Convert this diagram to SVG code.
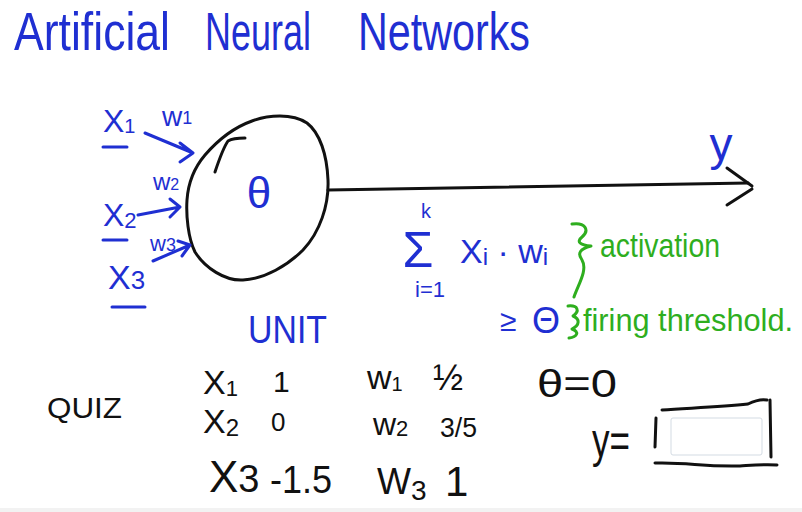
<svg xmlns="http://www.w3.org/2000/svg" width="802" height="512" viewBox="0 0 802 512">
<style>
.t{font-family:"Liberation Sans","DejaVu Sans",sans-serif}
.b{fill:#1f2fd2}
.k{fill:#111}
.g{fill:#2eae1e}
.ink{fill:none;stroke:#111;stroke-width:3;stroke-linecap:round;stroke-linejoin:round}
.bl{fill:none;stroke:#1f2fd2;stroke-width:3;stroke-linecap:round;stroke-linejoin:round}
.gr{fill:none;stroke:#2eae1e;stroke-width:3;stroke-linecap:round;stroke-linejoin:round}
</style>
<rect width="802" height="512" fill="#fff"/>
<rect x="0" y="508" width="802" height="4" fill="#f2f2f2"/>

<g id="title" class="t b">
<text x="14" y="50" font-size="54" textLength="156" lengthAdjust="spacingAndGlyphs">Artificial</text>
<text x="205" y="50" font-size="54" textLength="106" lengthAdjust="spacingAndGlyphs">Neural</text>
<text x="358" y="50" font-size="54" textLength="172" lengthAdjust="spacingAndGlyphs">Networks</text>
</g>

<g id="unit">
<path d="M187,200 C188,185 194,168 205,155 C218,140 235,127 252,121 C268,115 292,113 307,123 C320,133 327,155 328,180 C329,205 320,232 303,250 C288,265 265,279 243,280 C225,281 205,268 195,252 C188,238 186,215 187,200 Z" class="ink"/>
<path d="M215,172 C219,160 223,148 228,141 C233,138 239,138 245,138" class="ink"/>
<text x="259" y="208" font-size="44" text-anchor="middle" class="t b">θ</text>
</g>

<g id="input-x1" class="t b">
<text x="103" y="132" font-size="32">X<tspan font-size="20" dy="1">1</tspan></text>
<path d="M103,147 H127" class="bl"/>
<text x="162" y="126" font-size="28">w<tspan font-size="18" dy="-2">1</tspan></text>
</g>
<g id="input-x2" class="t b">
<text x="103" y="226" font-size="32">X<tspan font-size="22" dy="2">2</tspan></text>
<path d="M103,240 H127" class="bl"/>
<text x="153" y="190" font-size="24">w<tspan font-size="16">2</tspan></text>
</g>
<g id="input-x3" class="t b">
<text x="108" y="289" font-size="34">X<tspan font-size="26">3</tspan></text>
<path d="M112,307 H145" class="bl"/>
<text x="150" y="251" font-size="22">w<tspan font-size="18">3</tspan></text>
</g>

<g id="output" class="t b">
<text x="721" y="160" font-size="46" text-anchor="middle">y</text>
</g>

<g id="connectors">
<path d="M145,133 L193,153 M180,143 L193,153 L180,162" class="bl"/>
<path d="M138,215 L180,207 M170,199 L180,207 L170,217" class="bl"/>
<path d="M153,261 L190,245 M178,241 L190,245 L182,256" class="bl"/>
<path d="M328,190 C450,188 600,186 748,183" class="ink"/>
<path d="M727,168 L752,186 M752,189 L727,205" class="ink"/>
</g>

<g id="formula" class="t">
<text x="418" y="267" font-size="50" text-anchor="middle" class="b">Σ</text>
<text x="421" y="218" font-size="20" class="b">k</text>
<text x="415" y="297" font-size="22" class="b">i=1</text>
<text x="460" y="263" font-size="34" class="b">X<tspan font-size="24" dy="2">i</tspan><tspan dy="-2"> · w</tspan><tspan font-size="24" dy="2">i</tspan></text>
<path d="M572,224 C585,222 590,230 582,237 C576,242 580,245 591,246 C580,249 577,253 582,260 C588,270 578,285 574,297" class="gr"/>
<text x="600" y="257" font-size="34" textLength="120" lengthAdjust="spacingAndGlyphs" class="g">activation</text>
<text x="500" y="331" font-size="30" class="b">≥</text>
<text x="546" y="333" font-size="36" text-anchor="middle" class="b">Θ</text>
<path d="M568,306 C578,305 580,311 573,316 C580,319 580,325 572,329 C580,332 577,337 569,338" class="gr"/>
<text x="583" y="331" font-size="31" textLength="210" lengthAdjust="spacingAndGlyphs" class="g">firing threshold.</text>
</g>

<g id="quiz" class="t">
<text x="248" y="343" font-size="38" textLength="79" lengthAdjust="spacingAndGlyphs" class="b">UNIT</text>
<text x="47" y="418" font-size="29" textLength="75" lengthAdjust="spacingAndGlyphs" class="k">QUIZ</text>
<text x="203" y="394" font-size="34" class="k">X<tspan font-size="22" dy="2">1</tspan></text>
<text x="273" y="392" font-size="30" class="k">1</text>
<text x="367" y="389" font-size="34" class="k">w<tspan font-size="20" dy="2">1</tspan></text>
<text x="433" y="390" font-size="36" class="k">½</text>
<text x="203" y="433" font-size="34" class="k">X<tspan font-size="24" dy="3">2</tspan></text>
<text x="271" y="431" font-size="26" class="k">0</text>
<text x="373" y="435" font-size="32" class="k">w<tspan font-size="22" dy="1">2</tspan></text>
<text x="440" y="437" font-size="28" textLength="37" lengthAdjust="spacingAndGlyphs" class="k">3/5</text>
<text x="209" y="492" font-size="44" class="k">X<tspan font-size="38">3</tspan></text>
<text x="270" y="493" font-size="38" textLength="62" lengthAdjust="spacingAndGlyphs" class="k">-1.5</text>
<text x="377" y="494" font-size="36" class="k">W<tspan font-size="28" dy="6">3</tspan></text>
<text x="445" y="496" font-size="42" class="k">1</text>
<text x="537" y="397" font-size="38" textLength="80" lengthAdjust="spacingAndGlyphs" class="k">θ=0</text>
<text x="592" y="457" font-size="48" textLength="38" lengthAdjust="spacingAndGlyphs" class="k">y=</text>
</g>

<g id="answer-box">
<rect x="671" y="418" width="91" height="37" rx="2" fill="#fff" stroke="#d3dbe3" stroke-width="1"/>
<path d="M656,418 L655,447" class="ink"/>
<path d="M662,410 C690,408 720,407 748,404 C756,400 762,399 767,400" class="ink"/>
<path d="M770,400 L771,457" class="ink"/>
<path d="M655,463 C690,462 700,467 740,466 C755,465 765,464 777,465" class="ink"/>
</g>
</svg>
